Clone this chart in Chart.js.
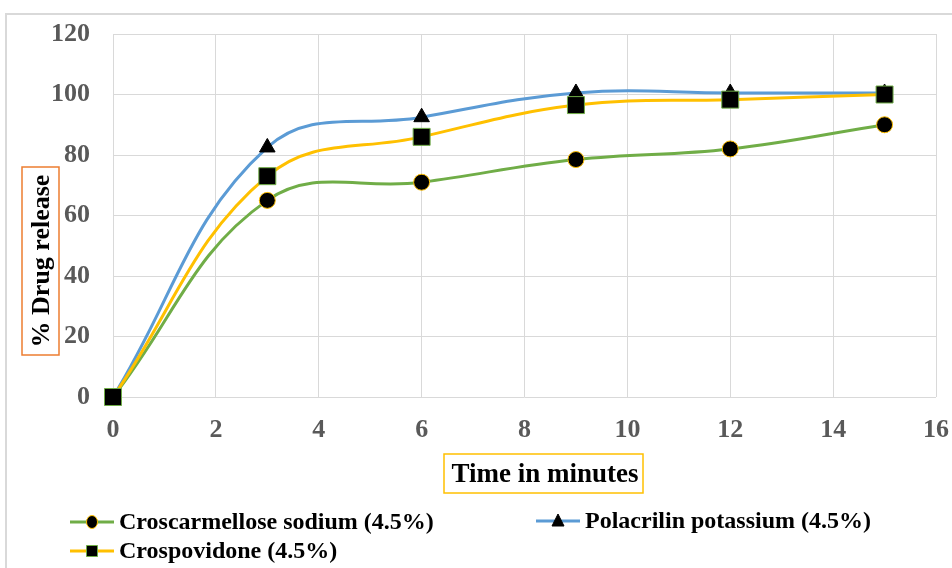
<!DOCTYPE html>
<html>
<head>
<meta charset="utf-8">
<script src="https://cdn.jsdelivr.net/npm/chart.js@4.4.1/dist/chart.umd.min.js"></script>
<style>
  body { margin: 0; background: #fff; }
  #wrap { width: 952px; height: 568px; position: relative; }
</style>
</head>
<body>
<div id="wrap"><canvas id="myChart" width="952" height="568"></canvas></div>
<script>
// data
const times = [0, 3, 6, 9, 12, 15];
const croscarmellose = [0, 65, 71, 78.5, 82, 90];
const polacrilin = [0, 82.5, 92.5, 100.5, 100.5, 100.5];
const crospovidone = [0, 73, 86, 96.5, 98.3, 100];
const seriesNames = ['Croscarmellose sodium (4.5%)', 'Polacrilin potassium (4.5%)', 'Crospovidone (4.5%)'];
const xTitle = 'Time in minutes';
const yTitle = '% Drug release';

const GREEN = '#70AD47', BLUE = '#5B9BD5', GOLD = '#FFC000', ORANGE = '#ED7D31';
const serif = '"Liberation Serif", "Times New Roman", serif';

function pts(vals) {
  return times.map((t, i) => ({ x: t, y: vals[i] }));
}

// little legend marker helper
function drawMarker(ctx, style, x, y, border) {
  ctx.save();
  ctx.fillStyle = '#000';
  ctx.strokeStyle = border;
  ctx.lineWidth = 1;
  ctx.beginPath();
  if (style === 'circle') {
    ctx.ellipse(x, y, 5.5, 6.5, 0, 0, Math.PI * 2);
  } else if (style === 'rect') {
    ctx.rect(x - 5.5, y - 5.5, 11, 11);
  } else {
    ctx.moveTo(x, y - 7);
    ctx.lineTo(x + 6, y + 5);
    ctx.lineTo(x - 6, y + 5);
    ctx.closePath();
  }
  ctx.fill();
  ctx.stroke();
  ctx.restore();
}

const decor = {
  id: 'decor',
  beforeDraw(chart) {
    const ctx = chart.ctx;
    ctx.save();
    ctx.strokeStyle = '#d9d9d9';
    ctx.lineWidth = 2;
    ctx.strokeRect(6, 14, 960, 580);
    ctx.restore();
  },
  afterDraw(chart) {
    const ctx = chart.ctx;
    ctx.save();
    // y axis title in orange box
    ctx.font = 'bold 26px ' + serif;
    ctx.fillStyle = '#000';
    ctx.textAlign = 'center';
    ctx.textBaseline = 'middle';
    ctx.translate(41, 261);
    ctx.rotate(-Math.PI / 2);
    ctx.fillText(yTitle, 0, 1);
    ctx.restore();
    ctx.save();
    ctx.strokeStyle = ORANGE;
    ctx.lineWidth = 1.5;
    ctx.strokeRect(22, 167, 37, 188);

    // x axis title in gold box
    ctx.font = 'bold 27px ' + serif;
    ctx.fillStyle = '#000';
    ctx.textAlign = 'center';
    ctx.textBaseline = 'middle';
    ctx.fillText(xTitle, 545, 475);
    ctx.strokeStyle = GOLD;
    ctx.strokeRect(444, 454, 199, 39);

    // legend
    const items = [
      { name: seriesNames[0], color: GREEN, style: 'circle', border: GOLD, x: 70, y: 522 },
      { name: seriesNames[1], color: BLUE, style: 'triangle', border: '#000', x: 536, y: 521 },
      { name: seriesNames[2], color: GOLD, style: 'rect', border: GREEN, x: 70, y: 551 }
    ];
    items.forEach(it => {
      ctx.strokeStyle = it.color;
      ctx.lineWidth = 3;
      ctx.beginPath();
      ctx.moveTo(it.x, it.y);
      ctx.lineTo(it.x + 44, it.y);
      ctx.stroke();
      drawMarker(ctx, it.style, it.x + 22, it.y, it.border);
      ctx.fillStyle = '#000';
      ctx.textAlign = 'left';
      ctx.font = 'bold 24px ' + serif;
      ctx.fillText(it.name, it.x + 49, it.y + 1);
    });
    ctx.restore();
  }
};

const ctx = document.getElementById('myChart').getContext('2d');
const chart = new Chart(ctx, {
  type: 'line',
  data: {
    datasets: [
      {
        label: seriesNames[0], data: pts(croscarmellose),
        borderColor: GREEN, borderWidth: 3, tension: 0.4, clip: false,
        pointStyle: 'circle', pointRadius: 8, pointBackgroundColor: '#000',
        pointBorderColor: GOLD, pointBorderWidth: 1, order: 2
      },
      {
        label: seriesNames[1], data: pts(polacrilin),
        borderColor: BLUE, borderWidth: 3, tension: 0.4, clip: false,
        pointStyle: 'triangle', pointRadius: 9, pointBackgroundColor: '#000',
        pointBorderColor: '#000', pointBorderWidth: 1, order: 1
      },
      {
        label: seriesNames[2], data: pts(crospovidone),
        borderColor: GOLD, borderWidth: 3, tension: 0.4, clip: false,
        pointStyle: 'rect', pointRadius: 12, pointBackgroundColor: '#000',
        pointBorderColor: GREEN, pointBorderWidth: 1, order: 0
      }
    ]
  },
  options: {
    responsive: false,
    animation: false,
    layout: { padding: { left: 0, top: 34, right: 16, bottom: 130 } },
    plugins: { legend: { display: false }, tooltip: { enabled: false } },
    scales: {
      x: {
        type: 'linear', min: 0, max: 16,
        ticks: { stepSize: 2, color: '#595959', padding: 18, font: { family: serif, size: 26, weight: 'bold' } },
        grid: { color: '#d9d9d9', drawTicks: false },
        border: { display: false },
        afterFit(s) { s.height = 41; s.paddingLeft = 0; s.paddingRight = 0; }
      },
      y: {
        min: 0, max: 120,
        ticks: { stepSize: 20, color: '#595959', padding: 23, font: { family: serif, size: 26, weight: 'bold' } },
        grid: { color: '#d9d9d9', drawTicks: false },
        border: { display: false },
        afterFit(s) { s.width = 113; s.paddingTop = 0; s.paddingBottom = 0; }
      }
    }
  },
  plugins: [decor]
});
</script>
</body>
</html>
